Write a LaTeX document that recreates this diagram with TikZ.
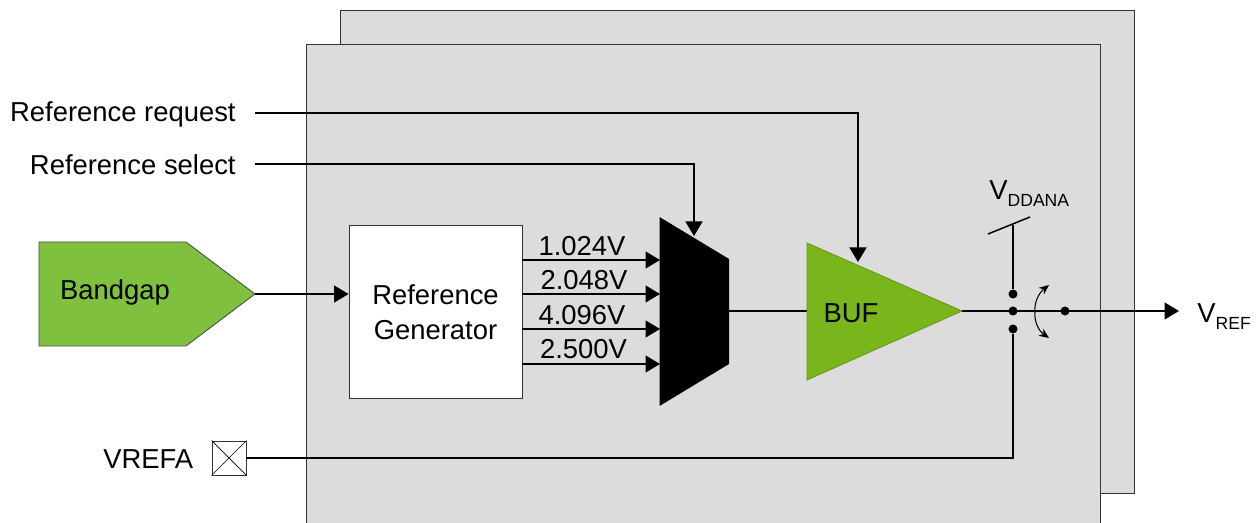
\documentclass[tikz,border=0pt]{standalone}
\usepackage{fontspec}
\setmainfont{Liberation Sans}
\usetikzlibrary{arrows.meta,positioning,calc}
\definecolor{panelgray}{HTML}{DCDCDC}
\definecolor{gapgreen}{HTML}{80C03F}
\definecolor{bufgreen}{HTML}{7AB51B}
\newcommand{\lowtxt}[1]{\raisebox{-0.45ex}{\fontsize{10}{12}\selectfont #1}}
\tikzset{
    panel/.style={draw=black!80, fill=panelgray, line width=0.45pt},
    wire/.style={draw=black, line width=0.85pt},
    sigarrow/.style={wire, -{Triangle[length=0.29cm,width=0.34cm]}},
    label/.style={inner sep=0pt, font=\fontsize{15.6}{19.8}\selectfont},
    dot/.style={circle, fill=black, inner sep=0pt, minimum size=0.18cm}
}
\begin{document}
\begin{tikzpicture}[x=0.02cm, y=-0.02cm]
            \clip (0,0) rectangle (1259,523);
            \fill[white] (0,0) rectangle (1259,523);

            % Back and front panels
            \draw[panel] (340.5,10) rectangle (1134,493);
            \draw[panel] (306.5,44) rectangle (1100,540);

            % Bandgap
            \draw[draw=black!70, fill=gapgreen, line width=0.5pt] (39,242) -- (186,242) -- (255,294) coordinate (gaptip) -- (186,346) -- (39,346) -- cycle;
            \node[label] (gaplabel) at (115,292.5) {Bandgap};

            % Reference generator
            \node[draw=black!80, fill=white, line width=0.5pt, minimum width=3.46cm, minimum height=3.46cm, inner sep=0pt, align=center, label] (refgen) at (435.5,312) {Reference\\Generator};

            % Mux
            \fill[black] (659.5,217) -- (729,259) -- (729,364) -- (659.5,406) -- cycle;
            \coordinate (muxin1) at (660,260);
            \coordinate (muxin2) at (660,294);
            \coordinate (muxin3) at (660,329);
            \coordinate (muxin4) at (660,364);
            \coordinate (muxsel) at (694,236);
            \coordinate (muxout) at (729,311);

            % BUF
            \coordinate (bufin) at (807,311);
            \coordinate (bufreq) at (858,262);
            \draw[wire] (muxout) -- (bufin);
            \draw[draw=bufgreen!85!black, fill=bufgreen, line width=0.5pt] (807,243) -- (962,311) coordinate (buftip) -- (807,380) -- cycle;
            \node[label] (buflabel) at (851,313) {BUF};

            % Voltage outputs
            \draw[sigarrow] (refgen.east |- muxin1) -- (muxin1);
            \draw[sigarrow] (refgen.east |- muxin2) -- (muxin2);
            \draw[sigarrow] (refgen.east |- muxin3) -- (muxin3);
            \draw[sigarrow] (refgen.east |- muxin4) -- (muxin4);
            \node[label] (volt1) at (582,246) {1.024V};
            \node[label] (volt2) at (584,280) {2.048V};
            \node[label] (volt3) at (582,315.5) {4.096V};
            \node[label] (volt4) at (583.5,349) {2.500V};
            \draw[sigarrow] (gaptip) -- (refgen.west |- gaptip);

            % Request and select
            \node[label, anchor=east] (reqlabel) at (236,114) {Reference request};
            \node[label, anchor=east] (sellabel) at (236,165) {Reference select};
            \coordinate (reqstart) at (255,113);
            \coordinate (selstart) at (255,164);
            \draw[sigarrow] (reqstart) -| (bufreq);
            \draw[sigarrow] (selstart) -| (muxsel);

            % Switch
            \node[dot] (swtop) at (1013,294) {};
            \node[dot] (swmid) at (1013,311) {};
            \node[dot] (swbot) at (1013,329) {};
            \node[dot] (swout) at (1065,311) {};
            \coordinate (vddtick) at (1013,225);
            \coordinate (vrefend) at (1179,311);
            \draw[wire] (988,234) -- (1030,217);
            \draw[wire] (vddtick) -- (swtop);
            \draw[sigarrow] (buftip) -- (vrefend);
            \draw[line width=0.6pt, -{Stealth[length=0.2cm,width=0.17cm]}] (1035,312) .. controls (1034,302) and (1039,293) .. (1049,285);
            \draw[line width=0.6pt, -{Stealth[length=0.2cm,width=0.17cm]}] (1035,312) .. controls (1034,322) and (1039,331) .. (1049,338);
            \node[label, anchor=base west] (vddlabel) at (989,200) {V\lowtxt{DDANA}};
            \node[label, anchor=base west] (vreflabel) at (1197,323) {V\lowtxt{REF}};

            % VREFA pad
            \node[label, anchor=east] (padlabel) at (193.5,459.5) {VREFA};
            \node[draw=black!80, fill=white, line width=0.5pt, minimum size=0.68cm, inner sep=0pt] (pad) at (229,458) {};
            \draw[line width=0.4pt] (pad.north west) -- (pad.south east);
            \draw[line width=0.4pt] (pad.south west) -- (pad.north east);
            \draw[wire] (pad.east) -| (swbot);
        \end{tikzpicture}
\end{document}
